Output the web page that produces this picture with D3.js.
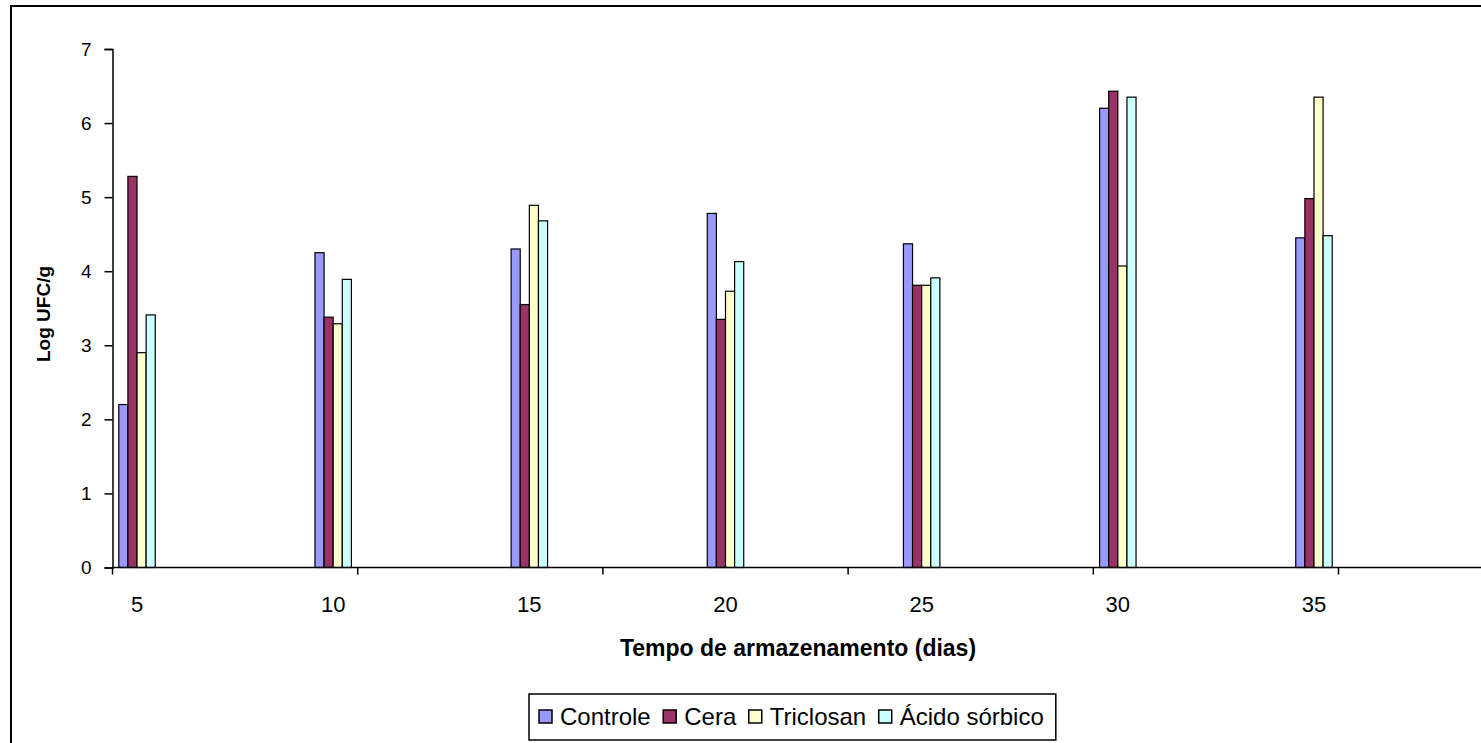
<!DOCTYPE html>
<html>
<head>
<meta charset="utf-8">
<script src="https://cdn.jsdelivr.net/npm/d3@7"></script>
<style>
  html, body { margin: 0; padding: 0; background: #fff; }
  svg { display: block; font-family: Arial, "Liberation Sans", sans-serif; }
</style>
</head>
<body>
<svg id="chart" width="1481" height="743"></svg>
<script>
// ---- data ----
const categories = ["5", "10", "15", "20", "25", "30", "35"];
const seriesNames = ["Controle", "Cera", "Triclosan", "Ácido sórbico"];
const controle = [2.20, 4.25, 4.30, 4.78, 4.37, 6.20, 4.45];
const cera     = [5.28, 3.38, 3.55, 3.35, 3.81, 6.43, 4.98];
const triclosan= [2.90, 3.29, 4.89, 3.73, 3.81, 4.07, 6.35];
const acido    = [3.41, 3.89, 4.68, 4.13, 3.91, 6.35, 4.48];
const yTicks = [0, 1, 2, 3, 4, 5, 6, 7];
const colors = ["#9999FF", "#993366", "#FFFFCC", "#CCFFFF"];
const seriesValues = [controle, cera, triclosan, acido];

// ---- layout ----
const svg = d3.select("#chart");
const plotLeft = 112.5, plotTop = 49, plotBottom = 567.5;
const slotsPerCat = 4, nSlots = categories.length * slotsPerCat;
const slotW = 49.04;
const plotRight = plotLeft + nSlots * slotW;

svg.append("rect").attr("width", 1481).attr("height", 743).attr("fill", "#fff");
// outer frame
svg.append("rect").attr("x", 11).attr("y", 6).attr("width", 1500).attr("height", 800)
  .attr("fill", "none").attr("stroke", "#000").attr("stroke-width", 2);

const slots = d3.range(nSlots);
const x0 = d3.scaleBand().domain(slots).range([plotLeft, plotRight]).padding(0);
const x1 = d3.scaleBand().domain(seriesNames).range([0, x0.bandwidth()])
  .paddingInner(0).paddingOuter(0.69);
const y = d3.scaleLinear().domain([0, 7]).range([plotBottom, plotTop]);

// bars
const rows = [];
categories.forEach((c, i) => {
  seriesNames.forEach((s, j) => rows.push({cat: c, slot: i * slotsPerCat, s, j, v: seriesValues[j][i]}));
});
svg.append("g").selectAll("rect").data(rows).join("rect")
  .attr("x", d => x0(d.slot) + x1(d.s))
  .attr("y", d => y(d.v))
  .attr("width", x1.bandwidth())
  .attr("height", d => y(0) - y(d.v))
  .attr("fill", d => colors[d.j])
  .attr("stroke", "#000").attr("stroke-width", 1.2);

// y axis
const yAxis = svg.append("g").attr("transform", `translate(${plotLeft},0)`)
  .call(d3.axisLeft(y).tickValues(yTicks).tickSize(8).tickPadding(13).tickFormat(d3.format("d")));
yAxis.select(".domain").attr("stroke", "#000").attr("stroke-width", 1.5);
yAxis.selectAll(".tick line").attr("stroke", "#000").attr("stroke-width", 1.5);
yAxis.selectAll(".tick text").attr("font-size", 19).attr("fill", "#000")
  .attr("font-family", "Arial, 'Liberation Sans', sans-serif");

// x axis baseline + ticks every 5 slots
const xg = svg.append("g");
xg.append("line").attr("x1", plotLeft).attr("x2", 1481).attr("y1", plotBottom).attr("y2", plotBottom)
  .attr("stroke", "#000").attr("stroke-width", 1.5);
const tickSlots = slots.filter(i => i % 5 === 0);
xg.selectAll("line.tk").data(tickSlots).join("line").attr("class", "tk")
  .attr("x1", d => x0(d)).attr("x2", d => x0(d))
  .attr("y1", plotBottom).attr("y2", plotBottom + 7)
  .attr("stroke", "#000").attr("stroke-width", 1.5);
xg.selectAll("text.lbl").data(categories).join("text").attr("class", "lbl")
  .attr("x", (d, i) => x0(i * slotsPerCat) + x0.bandwidth() / 2)
  .attr("y", 612)
  .attr("text-anchor", "middle").attr("font-size", 22).text(d => d);

// axis titles
svg.append("text").attr("x", 798).attr("y", 656).attr("text-anchor", "middle")
  .attr("font-size", 23).attr("font-weight", "bold").text("Tempo de armazenamento (dias)");
svg.append("text").attr("transform", "translate(50,314) rotate(-90)").attr("text-anchor", "middle")
  .attr("font-size", 19).attr("font-weight", "bold").text("Log UFC/g");

// legend
const lg = svg.append("g");
const lgBox = lg.append("rect").attr("y", 694).attr("height", 46)
  .attr("fill", "#fff").attr("stroke", "#000").attr("stroke-width", 1.5);
let cx = 539;
seriesNames.forEach((s, j) => {
  lg.append("rect").attr("x", cx).attr("y", 710).attr("width", 13).attr("height", 13)
    .attr("fill", colors[j]).attr("stroke", "#000").attr("stroke-width", 1.5);
  const t = lg.append("text").attr("x", cx + 21).attr("y", 725).attr("font-size", 24).text(s);
  cx += 21 + t.node().getComputedTextLength() + 12.5;
});
lgBox.attr("x", 529).attr("width", cx - 12.5 + 12 - 529);
</script>
</body>
</html>
